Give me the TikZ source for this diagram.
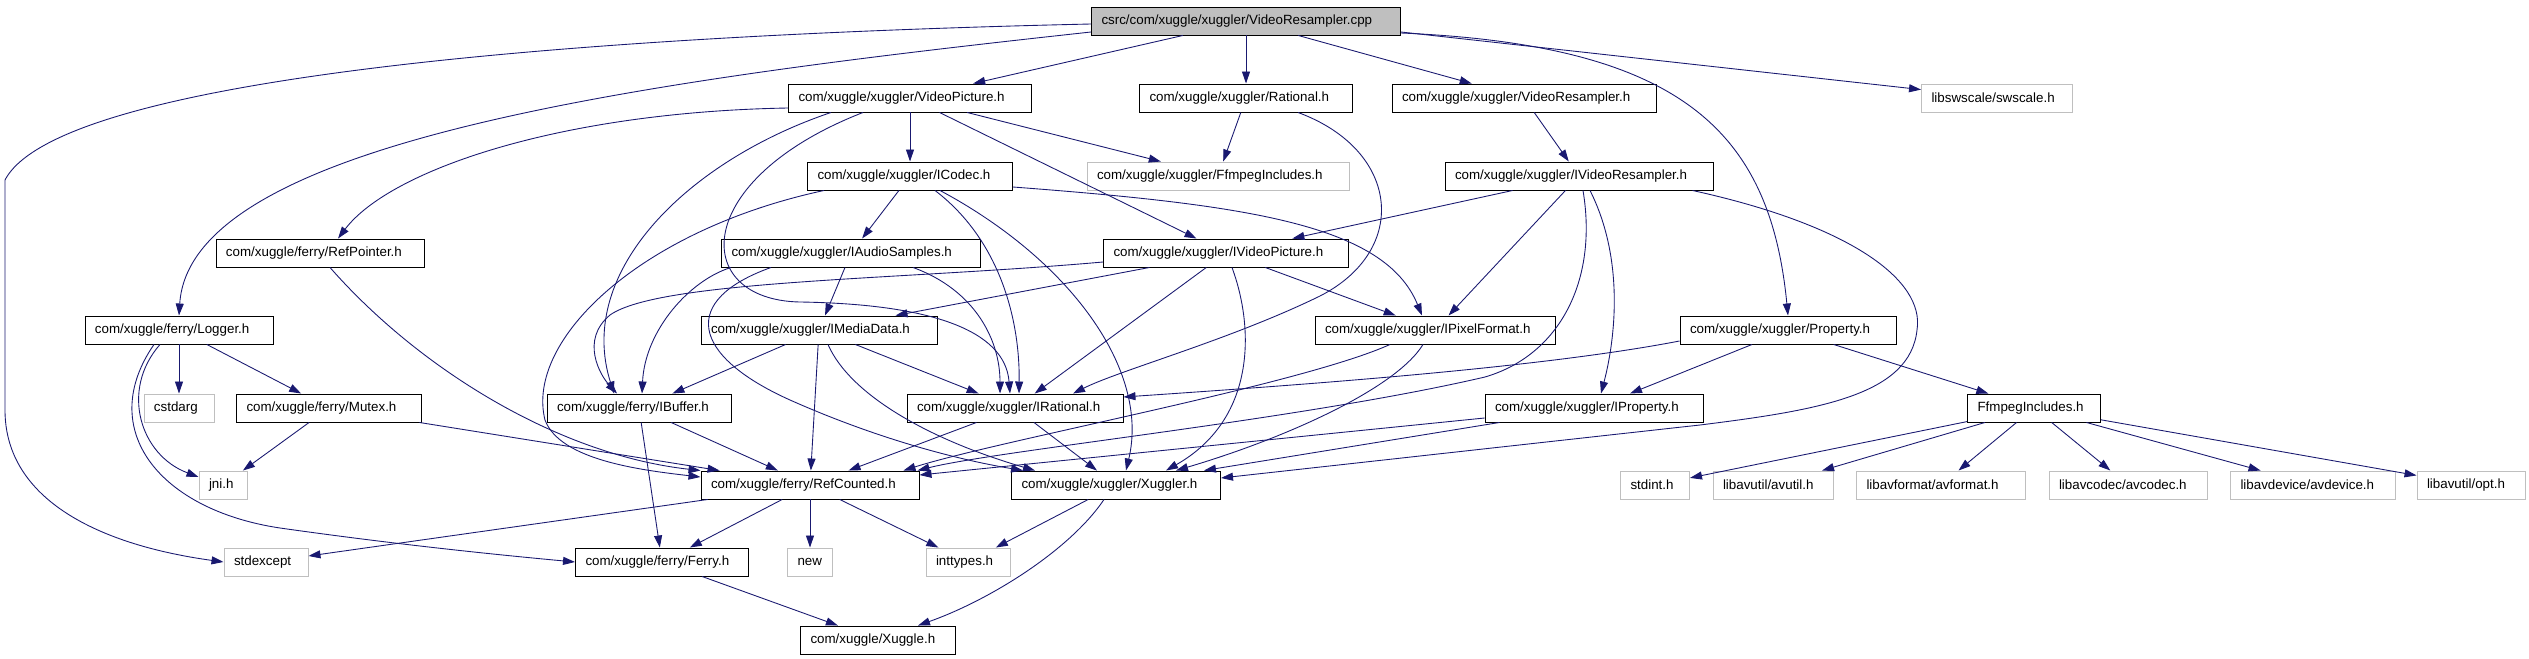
\documentclass[tikz,border=0pt]{standalone}
\usepackage{fontspec}
\setmainfont{Liberation Sans}
\usepackage{xcolor}
\usepackage{tikz}
\usetikzlibrary{arrows.meta, calc}
\definecolor{edgeblue}{HTML}{191970}
\definecolor{sysgray}{HTML}{BFBFBF}

\begin{document}
\begin{tikzpicture}[
  x=0.02cm, y=-0.02cm,
  every node/.style={font=\fontsize{7.6}{9}\selectfont},
  hdr/.style={
    draw=black, line width=0.55pt, fill=white,
    minimum height=0.56cm, inner ysep=0pt, inner xsep=0.2cm,
    /utils/exec={\pgfmathsetmacro\boxtw{#1*0.02-0.4}},
    text width=\boxtw cm, align=left
  },
  sys/.style={hdr=#1, draw=sysgray},
  main/.style={hdr=#1, fill=sysgray},
  dep/.style={-{Triangle[length=2.4mm, width=1.6mm]}, line width=0.5pt, color=edgeblue}
]
  \useasboundingbox (0,0) rectangle (2529,659);

  % Nodes, row by row
  \node[main=309] (cpp) at (1246,21) {csrc/com/xuggle/xuggler/VideoResampler.cpp};

  \node[hdr=243] (vpic) at (910,98) {com/xuggle/xuggler/VideoPicture.h};
  \node[hdr=213] (rat) at (1246,98) {com/xuggle/xuggler/Rational.h};
  \node[hdr=264] (vres) at (1524,98) {com/xuggle/xuggler/VideoResampler.h};
  \node[sys=151] (sws) at (1997,98) {libswscale/swscale.h};

  \node[hdr=205] (icodec) at (910,176) {com/xuggle/xuggler/ICodec.h};
  \node[sys=262] (ffx) at (1218,176) {com/xuggle/xuggler/FfmpegIncludes.h};
  \node[hdr=268] (ivres) at (1579,176) {com/xuggle/xuggler/IVideoResampler.h};

  \node[hdr=208] (refptr) at (320,253) {com/xuggle/ferry/RefPointer.h};
  \node[hdr=259] (iaudio) at (851,253) {com/xuggle/xuggler/IAudioSamples.h};
  \node[hdr=245] (ivpic) at (1226,253) {com/xuggle/xuggler/IVideoPicture.h};

  \node[hdr=188] (logger) at (179,330) {com/xuggle/ferry/Logger.h};
  \node[hdr=236] (imedia) at (819,330) {com/xuggle/xuggler/IMediaData.h};
  \node[hdr=240] (ipix) at (1435,330) {com/xuggle/xuggler/IPixelFormat.h};
  \node[hdr=216] (prop) at (1788,330) {com/xuggle/xuggler/Property.h};

  \node[sys=70] (cstdarg) at (179,408) {cstdarg};
  \node[hdr=185] (mutex) at (329,408) {com/xuggle/ferry/Mutex.h};
  \node[hdr=184] (ibuf) at (639,408) {com/xuggle/ferry/IBuffer.h};
  \node[hdr=216] (irat) at (1015,408) {com/xuggle/xuggler/IRational.h};
  \node[hdr=218] (iprop) at (1594,408) {com/xuggle/xuggler/IProperty.h};
  \node[hdr=133] (ffr) at (2034,408) {FfmpegIncludes.h};

  \node[sys=48] (jni) at (223,485) {jni.h};
  \node[hdr=218] (refc) at (810,485) {com/xuggle/ferry/RefCounted.h};
  \node[hdr=209] (xugr) at (1116,485) {com/xuggle/xuggler/Xuggler.h};
  \node[sys=69] (stdint) at (1655,485) {stdint.h};
  \node[sys=120] (avutil) at (1773,485) {libavutil/avutil.h};
  \node[sys=169] (avformat) at (1941,485) {libavformat/avformat.h};
  \node[sys=158] (avcodec) at (2128,485) {libavcodec/avcodec.h};
  \node[sys=165] (avdevice) at (2313,485) {libavdevice/avdevice.h};
  \node[sys=108] (avopt) at (2471,485) {libavutil/opt.h};

  \node[sys=84] (stdexc) at (266,562) {stdexcept};
  \node[hdr=173] (ferry) at (662,562) {com/xuggle/ferry/Ferry.h};
  \node[sys=45] (new) at (810,562) {new};
  \node[sys=84] (inttypes) at (968,562) {inttypes.h};

  \node[hdr=155] (xuggle) at (878,640) {com/xuggle/Xuggle.h};

  % Includes of the source file
  \draw[dep] (cpp) -- (vpic);
  \draw[dep] (cpp) -- (rat);
  \draw[dep] (cpp) -- (vres);
  \draw[dep] ($(cpp.east)+(0,11)$) -- (sws);
  \draw[dep] ($(cpp.east)+(0,12)$) .. controls (1680,45) and (1770,130) .. (prop.north);
  \draw[dep] ($(cpp.west)+(0,11)$) .. controls (650,80) and (190,140) .. (logger.north);
  \draw[dep] ($(cpp.west)+(0,3)$) .. controls (600,35) and (60,75) .. (5,180) -- (5,410)
    .. controls (5,500) and (100,545) .. (stdexc.west);

  % VideoPicture.h
  \draw[dep] ($(vpic.west)+(0,10)$) .. controls (560,112) and (390,170) .. ($(refptr.north)+(18,0)$);
  \draw[dep] (vpic) -- (icodec);
  \draw[dep] (vpic) -- (ffx);
  \draw[dep] (vpic) -- (ivpic);
  \draw[dep] ($(vpic.south)+(-79,0)$) .. controls (690,160) and (575,270) .. ($(ibuf.north)+(-25,0)$);
  \draw[dep] ($(vpic.south)+(-47,0)$) .. controls (690,180) and (690,300) .. (800,302)
    .. controls (930,304) and (1005,330) .. ($(irat.north)+(-5,0)$);

  % Rational.h, VideoResampler.h
  \draw[dep] (rat) -- (ffx);
  \draw[dep] ($(rat.south)+(52,0)$) .. controls (1400,150) and (1410,250) .. (1320,296)
    .. controls (1230,340) and (1120,370) .. ($(irat.north)+(58,0)$);
  \draw[dep] (vres) -- (ivres);

  % IVideoResampler.h
  \draw[dep] (ivres) -- (ivpic);
  \draw[dep] (ivres) -- (ipix);
  \draw[dep] ($(ivres.south)+(11,0)$) .. controls (1625,260) and (1615,340) .. ($(iprop.north)+(7,0)$);
  \draw[dep] ($(ivres.south)+(4,0)$) .. controls (1598,280) and (1560,355) .. (1485,377)
    .. controls (1300,420) and (1000,450) .. ($(refc.north east)+(-2,0)$);
  \draw[dep] ($(ivres.south east)+(-21,0)$) .. controls (1850,225) and (1925,280) .. (1917,330)
    .. controls (1910,395) and (1820,410) .. (1700,425) -- ($(xugr.east)+(0,-7)$);

  % ICodec.h
  \draw[dep] (icodec) -- (iaudio);
  \draw[dep] ($(icodec.east)+(0,11)$) .. controls (1250,205) and (1385,225) .. ($(ipix.north)+(-13,0)$);
  \draw[dep] ($(icodec.south)+(25,0)$) .. controls (1000,240) and (1020,320) .. ($(irat.north)+(4,0)$);
  \draw[dep] ($(icodec.south)+(30,0)$) .. controls (1070,260) and (1150,370) .. ($(xugr.north)+(10,0)$);
  \draw[dep] ($(icodec.south west)+(17,0)$) .. controls (640,230) and (525,340) .. (545,420)
    .. controls (560,460) and (640,470) .. ($(refc.west)+(0,-8)$);

  % RefPointer.h, IAudioSamples.h
  \draw[dep] ($(refptr.south)+(10,0)$) .. controls (420,370) and (560,455) .. (refc.north west);
  \draw[dep] (iaudio) -- (imedia);
  \draw[dep] ($(iaudio.south west)+(10,0)$) .. controls (690,280) and (645,330) .. ($(ibuf.north)+(3,0)$);
  \draw[dep] ($(iaudio.south)+(-80,0)$) .. controls (680,300) and (690,355) .. (790,400)
    .. controls (880,440) and (960,460) .. ($(xugr.north west)+(12,0)$);
  \draw[dep] ($(iaudio.south)+(62,0)$) .. controls (975,290) and (1000,340) .. ($(irat.north)+(-15,0)$);

  % IVideoPicture.h
  \draw[dep] (ivpic) -- (imedia);
  \draw[dep] ($(ivpic.west)+(0,9)$) .. controls (900,280) and (660,280) .. (610,315)
    .. controls (580,340) and (600,375) .. ($(ibuf.north)+(-22,0)$);
  \draw[dep] (ivpic) -- (irat);
  \draw[dep] ($(ivpic.south)+(6,0)$) .. controls (1255,330) and (1255,420) .. ($(xugr.north)+(50,0)$);
  \draw[dep] (ivpic) -- (ipix);

  % Logger.h, Mutex.h
  \draw[dep] (logger) -- (cstdarg);
  \draw[dep] (logger) -- (mutex);
  \draw[dep] ($(logger.south)+(-19,0)$) .. controls (120,390) and (140,455) .. ($(jni.west)+(0,-8)$);
  \draw[dep] ($(logger.south)+(-25,0)$) .. controls (95,430) and (160,510) .. (280,528)
    .. controls (400,545) and (500,555) .. (ferry.west);
  \draw[dep] (mutex) -- (jni);
  \draw[dep] (mutex) -- (refc);

  % IMediaData.h, IPixelFormat.h, Property.h
  \draw[dep] (imedia) -- (ibuf);
  \draw[dep] (imedia) -- (refc);
  \draw[dep] (imedia) -- (irat);
  \draw[dep] ($(imedia.south)+(9,0)$) .. controls (850,395) and (930,440) .. ($(xugr.north west)+(24,0)$);
  \draw[dep] ($(ipix.south)+(-45,0)$) .. controls (1300,385) and (1000,440) .. ($(refc.north east)+(-16,0)$);
  \draw[dep] ($(ipix.south)+(-12,0)$) .. controls (1395,390) and (1280,440) .. ($(xugr.north)+(60,0)$);
  \draw[dep] ($(prop.west)+(0,11)$) .. controls (1540,368) and (1300,385) .. ($(irat.east)+(0,-11)$);
  \draw[dep] (prop) -- (iprop);
  \draw[dep] (prop) -- (ffr);

  % IBuffer.h, IRational.h, IProperty.h
  \draw[dep] (ibuf) -- (refc);
  \draw[dep] (ibuf) -- (ferry);
  \draw[dep] (irat) -- (refc);
  \draw[dep] (irat) -- (xugr);
  \draw[dep] ($(iprop.west)+(0,10)$) -- ($(refc.east)+(0,-10)$);
  \draw[dep] ($(iprop.south west)+(15,0)$) -- ($(xugr.north east)+(-17,0)$);

  % FfmpegIncludes.h
  \draw[dep] (ffr) -- (stdint);
  \draw[dep] (ffr) -- (avutil);
  \draw[dep] (ffr) -- (avformat);
  \draw[dep] (ffr) -- (avcodec);
  \draw[dep] (ffr) -- (avdevice);
  \draw[dep] (ffr) -- (avopt);

  % RefCounted.h, Xuggler.h, Ferry.h
  \draw[dep] (refc) -- (stdexc);
  \draw[dep] (refc) -- (ferry);
  \draw[dep] (refc) -- (new);
  \draw[dep] (refc) -- (inttypes);
  \draw[dep] (xugr) -- (inttypes);
  \draw[dep] ($(xugr.south)+(-12,0)$) .. controls (1070,550) and (990,600) .. ($(xuggle.north)+(40,0)$);
  \draw[dep] (ferry) -- (xuggle);

\end{tikzpicture}
\end{document}
